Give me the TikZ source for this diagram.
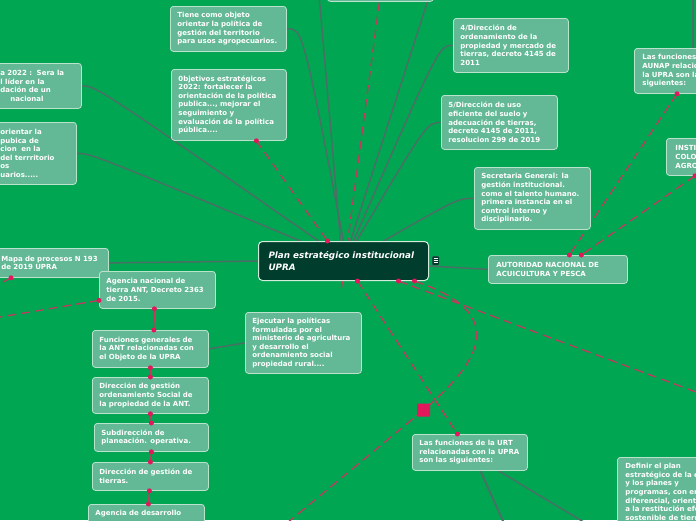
\documentclass[tikz,border=0pt]{standalone}
\usepackage{fontspec}
\setmainfont{DejaVu Sans}
\usetikzlibrary{calc,shadows}
\definecolor{bg}{HTML}{00A651}
\definecolor{boxfill}{HTML}{63B996}
\definecolor{boxline}{HTML}{B9E3CC}
\definecolor{gline}{HTML}{4A7066}
\definecolor{rline}{HTML}{C0395E}
\definecolor{rdot}{HTML}{E3175C}
\definecolor{cfill}{HTML}{003D2C}
\definecolor{cline}{HTML}{D5EBDD}
\pgfdeclarelayer{bgl}
\pgfdeclarelayer{edges}
\pgfsetlayers{bgl,edges,main}
\tikzset{
 mbox/.style={draw=boxline, line width=0.8pt, fill=boxfill, rounded corners=3pt, text=white,
   font=\bfseries\fontsize{7}{8.6}\selectfont, align=left, inner xsep=7pt, inner ysep=4pt,
   anchor=north west, drop shadow={opacity=0.2, shadow xshift=0.6pt, shadow yshift=-0.9pt}},
 cbox/.style={draw=cline, line width=1pt, fill=cfill, rounded corners=4pt, text=white,
   font=\bfseries\itshape\fontsize{8.8}{12}\selectfont, align=left, inner xsep=10pt, inner ysep=4pt,
   anchor=north west},
 gl/.style={draw=gline, line width=1.5pt},
 rl/.style={draw=rline, line width=1.3pt, dash pattern=on 9pt off 5pt},
 rchain/.style={draw=rline, line width=1.3pt},
 rdotst/.style={fill=rdot},
}
\begin{document}
\begin{tikzpicture}[x=1pt,y=-1pt]
\useasboundingbox (0,0) rectangle (696,520);
\begin{pgfonlayer}{bgl}
\fill[bg] (0,0) rectangle (696,520);
\end{pgfonlayer}
\clip (0,0) rectangle (696,520);

% ---------- nodes ----------
\node[mbox, minimum width=106pt, minimum height=33pt, text width=92pt] (top) at (327,-32) {};
\node[mbox, minimum width=116pt, minimum height=45pt, text width=102pt] (tiene) at (170,6)
 {Tiene como objeto\\orientar la política de\\gestión del territorio\\para usos agropecuarios.};
\node[mbox, minimum width=115pt, minimum height=71pt, text width=101pt] (objet) at (171,69)
 {0bjetivos estratégicos\\2022: fortalecer la\\orientación de la política\\publica..., mejorar el\\seguimiento y\\evaluación de la política\\pública....};
\node[mbox, minimum width=88pt, minimum height=45pt, text width=74pt] (vis) at (-7,63)
 {a 2022 :\ \ Sera la\\l líder en la\\dación de un\\\hspace*{10pt}nacional};
\node[mbox, minimum width=83pt, minimum height=62pt, text width=69pt] (ori) at (-7,122)
 {orientar la\\pubica de\\cion\ \ en la\\del terrritorio\\os\\uarios.....};
\node[mbox, minimum width=115pt, minimum height=54pt, text width=101pt] (dir4) at (453,18)
 {4/Dirección de\\ordenamiento de la\\propiedad y mercado de\\tierras, decreto 4145 de\\2011};
\node[mbox, minimum width=116pt, minimum height=54pt, text width=102pt] (dir5) at (441,95)
 {5/Dirección de uso\\eficiente del suelo y\\adecuación de tierras,\\decreto 4145 de 2011,\\resolucion 299 de 2019};
\node[mbox, minimum width=116pt, minimum height=62pt, text width=102pt] (sec) at (474,167)
 {Secretaria General: la\\gestión institucional.\\como el talento humano.\\primera instancia en el\\control interno y\\disciplinario.};
\node[mbox, minimum width=130pt, minimum height=45pt, text width=114pt, inner xsep=8pt] (aunap) at (634,48)
 {Las funciones de la\\AUNAP relacionadas con\\la UPRA son las\\siguientes:};
\node[mbox, minimum width=110pt, minimum height=37pt, text width=92pt, inner xsep=9pt] (inst) at (666,138)
 {INSTITUTO\\COLOMBIANO\\AGROPECUARIO};
\node[mbox, minimum width=139pt, minimum height=28pt, text width=123pt, inner xsep=8pt] (auto) at (488,255)
 {AUTORIDAD NACIONAL DE\\ACUICULTURA Y PESCA};
\node[cbox, minimum width=170pt, minimum height=39pt, text width=150pt] (center) at (258,241)
 {Plan estratégico institucional\\UPRA};
\node[fill=cfill, draw=cfill!70!white, line width=0.3pt, rounded corners=1pt, minimum width=7pt, minimum height=9pt, inner sep=0pt, anchor=north west] (icon) at (432,256) {};
\draw[white, line width=0.6pt] ([xshift=-2pt,yshift=2pt]icon.center) -- ([xshift=2pt,yshift=2pt]icon.center)
  ([xshift=-2pt]icon.center) -- ([xshift=2pt]icon.center)
  ([xshift=-2pt,yshift=-2pt]icon.center) -- ([xshift=2pt,yshift=-2pt]icon.center);
\node[mbox, minimum width=114pt, minimum height=29pt, text width=100pt] (mapa) at (-6,248)
 {Mapa de procesos N 193\\de 2019 UPRA};
\node[mbox, minimum width=116pt, minimum height=37pt, text width=102pt] (ant) at (99,271)
 {Agencia nacional de\\tierra ANT, Decreto 2363\\de 2015.};
\node[mbox, minimum width=116pt, minimum height=61pt, text width=102pt] (ejec) at (245,312)
 {Ejecutar la políticas\\formuladas por el\\ministerio de agricultura\\y desarrollo el\\ordenamiento social\\propiedad rural....};
\node[mbox, minimum width=116pt, minimum height=37pt, text width=102pt] (func) at (92,330)
 {Funciones generales de\\la ANT relacionadas con\\el Objeto de la UPRA};
\node[mbox, minimum width=116pt, minimum height=36pt, text width=102pt] (dgos) at (92,377)
 {Dirección de gestión\\ordenamiento Social de\\la propiedad de la ANT.};
\node[mbox, minimum width=114pt, minimum height=28pt, text width=100pt] (sub) at (94,423)
 {Subdirección de\\planeación. operativa.};
\node[mbox, minimum width=116pt, minimum height=28pt, text width=102pt] (dgt) at (92,462)
 {Dirección de gestión de\\tierras.};
\node[mbox, minimum width=116pt, text width=102pt, inner ysep=6pt, text depth=26pt] (adr) at (88,504)
 {Agencia de desarrollo};
\node[mbox, minimum width=115pt, minimum height=36pt, text width=101pt] (urt) at (412,434)
 {Las funciones de la URT\\relacionadas con la UPRA\\son las siguientes:};
\node[mbox, minimum width=140pt, text width=124pt, inner ysep=6pt, inner xsep=8pt] (def) at (617,457)
 {Definir el plan\\estratégico de la entidad\\y los planes y\\programas, con enfoque\\diferencial, orientados\\a la restitución efectiva\\sostenible de tierras};

% ---------- coordinates ----------
\coordinate (cOff) at ([xshift=-3pt]center.north);
\coordinate (cTiene) at (center.north);
\coordinate (cVis) at ([xshift=-25pt]center.north);
\coordinate (cOri) at ([xshift=-43pt]center.north);
\coordinate (cObj) at ([xshift=-16pt]center.north);
\coordinate (cTopBox) at ([xshift=7pt]center.north);
\coordinate (cDir4) at ([xshift=10pt]center.north);
\coordinate (cDir5) at ([xshift=13pt]center.north);
\coordinate (cSec) at ([xshift=40pt]center.north);
\coordinate (cBot1) at ([xshift=14pt]center.south);
\coordinate (cBot2) at ([xshift=55pt]center.south);
\coordinate (cBot3) at ([xshift=71pt]center.south);
\coordinate (offA) at (319,-5);
\coordinate (offB) at (693,-5);
\coordinate (redEnd) at (341,292);
\coordinate (sq) at (423.5,410);
\coordinate (offC) at (281,528);
\coordinate (offD) at (720,401);
\coordinate (offE) at (-6,287);
\coordinate (offF) at (-6,318);
\coordinate (offG) at (507,530);
\coordinate (offH) at (597,530);
\coordinate (topRed) at ([xshift=-1pt]top.south);
\coordinate (topGray) at ([xshift=47pt]top.south);
\coordinate (objDot) at ([xshift=27.5pt]objet.south);
\coordinate (urtDot) at ([xshift=-12.5pt]urt.north);
\coordinate (aunapDot) at ([xshift=43pt]aunap.south west);
\coordinate (instDot) at ([xshift=29pt]inst.south west);
\coordinate (autoDot1) at ([xshift=11.5pt]auto.north);
\coordinate (autoDot2) at ([xshift=23.5pt]auto.north);
\coordinate (mapaDot) at ([xshift=17pt]mapa.south west);
\coordinate (antDot) at ([yshift=-10.5pt]ant.west);
\coordinate (ch1a) at ([xshift=-3pt]ant.south);
\coordinate (ch1b) at ([xshift=3.5pt]func.north);
\coordinate (ch2a) at (func.south);
\coordinate (ch2b) at (dgos.north);
\coordinate (ch3a) at (dgos.south);
\coordinate (ch3b) at (sub.north);
\coordinate (ch4a) at (sub.south);
\coordinate (ch4b) at (dgt.north);
\coordinate (ch5a) at ([xshift=-1pt]dgt.south);
\coordinate (ch5b) at ([xshift=2pt]adr.north);

% ---------- connectors ----------
\begin{pgfonlayer}{edges}
\clip (0,0) rectangle (696,520);
\draw[gl] (offA) -- (cOff);
\draw[gl] (cTiene) .. controls ($(tiene.east)+(16,0)$) .. (tiene.east);
\draw[gl] (cVis) .. controls ($(vis.east)+(14,0)$) .. (vis.east);
\draw[gl] (cOri) .. controls ($(ori.east)+(14,0)$) .. (ori.east);
\draw[gl] (topGray) -- (cTopBox);
\draw[gl] (cDir4) .. controls ($(dir4.west)+(-14,0)$) .. (dir4.west);
\draw[gl] (cDir5) .. controls ($(dir5.west)+(-14,0)$) .. (dir5.west);
\draw[gl] (cSec) .. controls ($(sec.west)+(-16,0)$) .. (sec.west);
\draw[gl] ([yshift=-5pt]center.east) -- (auto.west);
\draw[gl] (mapa.east) -- (center.west);
\draw[gl] (func.east) -- (ejec.west);
\draw[gl] ([xshift=59pt]aunap.north west) -- (offB);
\draw[gl, line width=2pt] ([xshift=10.5pt]urt.south) -- (offG);
\draw[gl] ([xshift=28.5pt]urt.south) -- (offH);

\draw[rl] (topRed) -- (redEnd);
\draw[rl] (objDot) -- (cObj);
\draw[rl] (cBot1) -- (urtDot);
\draw[rl] (cBot2) -- (offD);
\draw[rl] (cBot3) .. controls (500,310) and (492,352) .. (sq);
\draw[rl] (sq) -- (offC);
\draw[rl] (aunapDot) -- (autoDot1);
\draw[rl] (instDot) -- (autoDot2);
\draw[rl] (mapaDot) -- (offE);
\draw[rl] (antDot) -- (offF);
\draw[rchain] (ch1a) -- (ch1b);
\draw[rchain] (ch2a) -- (ch2b);
\draw[rchain] (ch3a) -- (ch3b);
\draw[rchain] (ch4a) -- (ch4b);
\draw[rchain] (ch5a) -- (ch5b);
\end{pgfonlayer}

% ---------- dots and handle ----------
\foreach \p in {objDot,cObj,cBot1,cBot2,cBot3,urtDot,aunapDot,instDot,autoDot1,autoDot2,mapaDot,antDot,ch1a,ch1b,ch2a,ch2b,ch3a,ch3b,ch4a,ch4b,ch5a,ch5b}
  \fill[rdotst] (\p) circle (2.5pt);
\node[fill=rdot, minimum size=13pt, inner sep=0pt, rounded corners=1pt] (sqn) at (sq) {};
\end{tikzpicture}
\end{document}
